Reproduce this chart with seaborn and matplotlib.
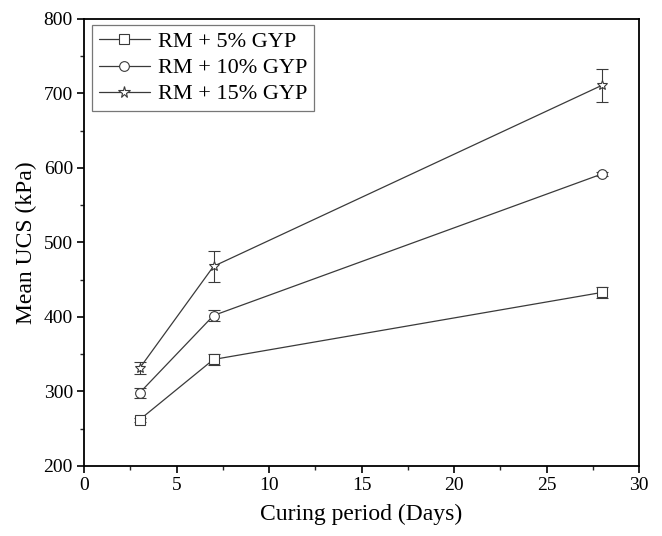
import matplotlib
matplotlib.use("Agg")
import matplotlib.pyplot as plt
import seaborn as sns
import pandas as pd
from matplotlib.ticker import MultipleLocator

days = [3, 7, 28]
series_names = ["RM + 5% GYP", "RM + 10% GYP", "RM + 15% GYP"]
ucs_5 = [262, 343, 433]
ucs_10 = [298, 402, 592]
ucs_15 = [331, 468, 711]
err_5 = [3, 7, 7]
err_10 = [7, 7, 3]
err_15 = [8, 21, 22]

sns.set_theme(style="ticks")
plt.rcParams["font.family"] = ["Liberation Serif", "DejaVu Serif"]
plt.rcParams["text.color"] = "black"
plt.rcParams["axes.labelcolor"] = "black"

rows = []
for name, vals, errs in zip(series_names, [ucs_5, ucs_10, ucs_15], [err_5, err_10, err_15]):
    for d, v, e in zip(days, vals, errs):
        rows.append({"Days": d, "UCS": v, "err": e, "Mix": name})
df = pd.DataFrame(rows)

LC = "#3a3a3a"
fig = plt.figure(figsize=(6.62, 5.36), dpi=100)
ax = fig.add_axes([0.1269, 0.1306, 0.8384, 0.834])

markers = {"RM + 5% GYP": "s", "RM + 10% GYP": "o", "RM + 15% GYP": "*"}
msizes = {"RM + 5% GYP": 6.5, "RM + 10% GYP": 7, "RM + 15% GYP": 8.5}

for name in series_names:
    sub = df[df["Mix"] == name]
    ax.errorbar(sub["Days"], sub["UCS"], yerr=sub["err"], fmt="none",
                ecolor=LC, elinewidth=0.8, capsize=4, capthick=0.8, zorder=2)

sns.lineplot(data=df, x="Days", y="UCS", hue="Mix", style="Mix",
             palette={n: LC for n in series_names},
             markers=markers, dashes=False, ax=ax, linewidth=0.9,
             markerfacecolor="white", markeredgecolor=LC,
             markeredgewidth=0.8, markersize=7, legend=True, zorder=3)

for line in ax.get_lines():
    lbl = line.get_label()
    if lbl in msizes:
        line.set_markersize(msizes[lbl])

ax.set_xlim(0, 30)
ax.set_ylim(200, 800)
ax.xaxis.set_major_locator(MultipleLocator(5))
ax.xaxis.set_minor_locator(MultipleLocator(2.5))
ax.yaxis.set_major_locator(MultipleLocator(100))
ax.yaxis.set_minor_locator(MultipleLocator(50))
ax.tick_params(axis="both", which="major", direction="out", length=5, width=1.2,
               labelsize=14, colors="black", top=False, right=False, pad=3)
ax.tick_params(axis="both", which="minor", direction="out", length=3, width=1.0,
               top=False, right=False)
for s in ax.spines.values():
    s.set_linewidth(1.3)
    s.set_color("black")

ax.set_xlabel("Curing period (Days)", fontsize=17, labelpad=7)
ax.set_ylabel("Mean UCS (kPa)", fontsize=17, labelpad=5)

handles, labels = ax.get_legend_handles_labels()
for h, l in zip(handles, labels):
    h.set_markersize(msizes.get(l, 7))
    h.set_markerfacecolor("white")
    h.set_markeredgecolor(LC)
leg = ax.legend(handles, labels, loc="upper left", bbox_to_anchor=(0.0144, 0.9866),
                borderaxespad=0, fontsize=16, frameon=True,
                fancybox=False, edgecolor="#555555", handlelength=2.3,
                borderpad=0.3, labelspacing=0.25, handletextpad=0.35)
leg.get_frame().set_linewidth(0.9)

fig.savefig("out.png", dpi=100)
